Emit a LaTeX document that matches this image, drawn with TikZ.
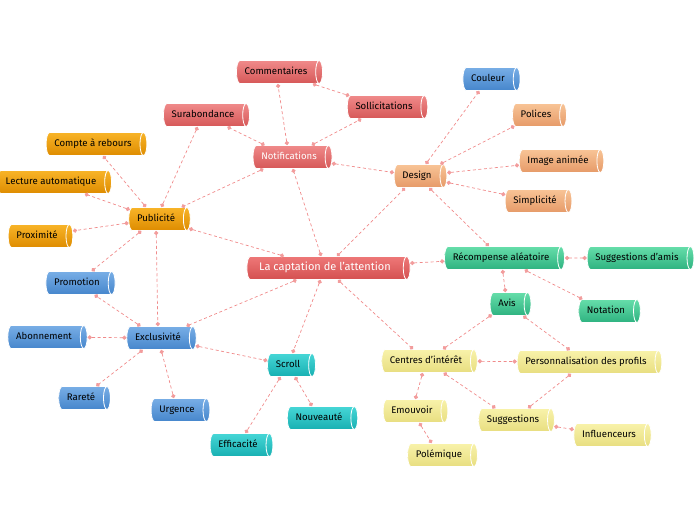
\documentclass[tikz,border=0pt]{standalone}
\usepackage{fontspec}
\setmainfont{Fira Sans}
\usetikzlibrary{arrows.meta,shapes.geometric}

\definecolor{linkred}{HTML}{F08A8A}
\definecolor{dotred}{HTML}{F29C9C}

\begin{document}
\begin{tikzpicture}[
  x=1pt, y=-1pt,
  box/.style      = {cylinder, shape border rotate=0, aspect=0.3,
                     draw=white, line width=0.8pt, inner xsep=8pt, inner ysep=7pt,
                     text height=7pt, text depth=2pt, font=\fontsize{9.6}{11}\selectfont},
  rootbox/.style  = {box, top color={rgb,255:red,238;green,120;blue,120},
                     bottom color={rgb,255:red,212;green,80;blue,80},
                     text=white, font=\fontsize{11}{13}\selectfont, inner xsep=12pt},
  redbox/.style   = {box, top color={rgb,255:red,240;green,138;blue,138},
                     bottom color={rgb,255:red,214;green,88;blue,88}},
  peachbox/.style = {box, top color={rgb,255:red,248;green,196;blue,150},
                     bottom color={rgb,255:red,230;green,154;blue,104}},
  amberbox/.style = {box, top color={rgb,255:red,248;green,180;blue,40},
                     bottom color={rgb,255:red,222;green,140;blue,0}},
  bluebox/.style  = {box, top color={rgb,255:red,120;green,174;blue,230},
                     bottom color={rgb,255:red,70;green,134;blue,204}},
  tealbox/.style  = {box, top color={rgb,255:red,70;green,214;blue,214},
                     bottom color={rgb,255:red,24;green,176;blue,178}},
  greenbox/.style = {box, top color={rgb,255:red,102;green,222;blue,170},
                     bottom color={rgb,255:red,46;green,178;blue,128}},
  yellowbox/.style= {box, top color={rgb,255:red,248;green,242;blue,170},
                     bottom color={rgb,255:red,232;green,222;blue,128}},
  link/.style     = {draw=linkred, line width=0.7pt, dash pattern=on 3pt off 2.5pt,
                     {Circle[length=4.2pt,width=4.2pt,color=dotred]}-{Circle[length=4.2pt,width=4.2pt,color=dotred]}},
]
  \useasboundingbox (0,0) rectangle (696,520);

  % centre
  \node[rootbox] (root) at (325,268) {La captation de l'attention};

  % notifications
  \node[redbox,text=white] (notif) at (289,157) {Notifications};
  \node[redbox] (comment) at (276,72)  {Commentaires};
  \node[redbox] (sollic)  at (384,107) {Sollicitations};
  \node[redbox] (surab)   at (203,115) {Surabondance};

  % design
  \node[peachbox] (design) at (417,176) {Design};
  \node[bluebox]  (couleur) at (488,79) {Couleur};
  \node[peachbox] (polices) at (536,115) {Polices};
  \node[peachbox] (image)   at (558,161) {Image animée};
  \node[peachbox] (simple)  at (535,201) {Simplicité};

  % publicite
  \node[amberbox] (pub)     at (156,219) {Publicité};
  \node[amberbox] (compte)  at (93,144)  {Compte à rebours};
  \node[amberbox] (lecture) at (51,182)  {Lecture automatique};
  \node[amberbox] (proxi)   at (37,236)  {Proximité};

  % exclusivite
  \node[bluebox] (exclu)  at (158,338) {Exclusivité};
  \node[bluebox] (promo)  at (77,283)  {Promotion};
  \node[bluebox] (abonn)  at (44,337)  {Abonnement};
  \node[bluebox] (rarete) at (81,398)  {Rareté};
  \node[bluebox] (urgence) at (177,410) {Urgence};

  % scroll
  \node[tealbox] (scroll)  at (288,365) {Scroll};
  \node[tealbox] (nouveau) at (319,418) {Nouveauté};
  \node[tealbox] (effic)   at (238,445) {Efficacité};

  % recompense
  \node[greenbox] (recomp)   at (501,258) {Récompense aléatoire};
  \node[greenbox] (amis)     at (637,258) {Suggestions d'amis};
  \node[greenbox] (avis)     at (507,304) {Avis};
  \node[greenbox] (notation) at (606,311) {Notation};

  % centres d'interet
  \node[yellowbox] (centres) at (426,361) {Centres d'intérêt};
  \node[yellowbox] (perso)   at (586,362) {Personnalisation des profils};
  \node[yellowbox] (emouv)   at (412,411) {Emouvoir};
  \node[yellowbox] (sugg)    at (513,420) {Suggestions};
  \node[yellowbox] (influ)   at (609,435) {Influenceurs};
  \node[yellowbox] (polem)   at (439,455) {Polémique};

  % links
  \foreach \a/\b in {root/notif, root/design, root/pub, root/recomp, root/exclu,
                     root/scroll, root/centres,
                     notif/comment, notif/sollic, notif/surab, notif/design, notif/pub,
                     comment/sollic, surab/pub,
                     design/couleur, design/polices, design/image, design/simple, design/recomp,
                     pub/compte, pub/lecture, pub/proxi, pub/promo, pub/exclu,
                     exclu/promo, exclu/abonn, exclu/rarete, exclu/urgence, exclu/scroll,
                     scroll/nouveau, scroll/effic,
                     recomp/amis, recomp/avis, recomp/notation,
                     avis/centres, avis/perso,
                     centres/perso, centres/emouv, centres/sugg,
                     perso/sugg, sugg/influ, emouv/polem}
    \draw[link] (\a) -- (\b);
\end{tikzpicture}
\end{document}
